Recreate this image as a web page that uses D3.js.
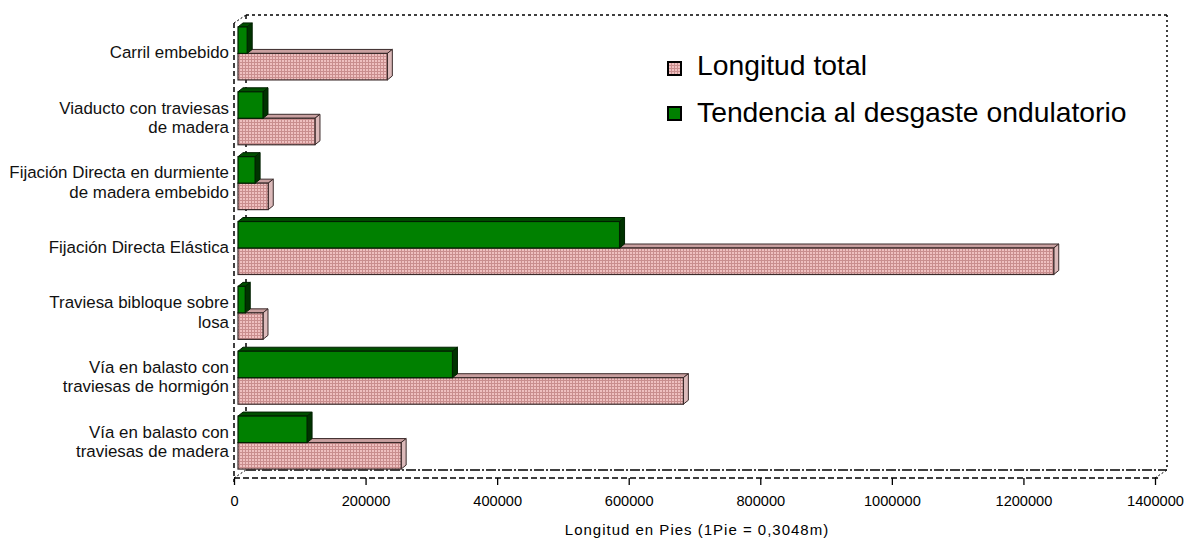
<!DOCTYPE html>
<html><head><meta charset="utf-8">
<script src="https://cdn.jsdelivr.net/npm/d3@7"></script>
<style>
html,body{margin:0;padding:0;background:#fff;}
svg{display:block;font-family:"Liberation Sans",Arial,sans-serif;}
</style></head><body>
<svg id="c" width="1192" height="542"></svg>
<script>
const categories = ["Carril embebido","Viaducto con traviesas de madera","Fijación Directa en durmiente de madera embebido","Fijación Directa Elástica","Traviesa bibloque sobre losa","Vía en balasto con traviesas de hormigón","Vía en balasto con traviesas de madera"];
const categoryLines = [["Carril embebido"],["Viaducto con traviesas","de madera"],["Fijación Directa en durmiente","de madera embebido"],["Fijación Directa Elástica"],["Traviesa bibloque sobre","losa"],["Vía en balasto con","traviesas de hormigón"],["Vía en balasto con","traviesas de madera"]];
const seriesNames = ["Tendencia al desgaste ondulatorio","Longitud total"];
const tendencia = [14000, 38000, 26000, 580000, 11000, 326000, 105000];
const longitudTotal = [227000, 117000, 46000, 1240000, 38000, 677000, 248000];
const xTicks = [0,200000,400000,600000,800000,1000000,1200000,1400000];
const axisTitle = "Longitud en Pies (1Pie = 0,3048m)";

const svg = d3.select("#c");
const defs = svg.append("defs");
const pat = defs.append("pattern").attr("id","pinkgrid").attr("patternUnits","userSpaceOnUse").attr("width",3).attr("height",3);
pat.append("rect").attr("width",3).attr("height",3).attr("fill","#efc0c0");
pat.append("rect").attr("x",2).attr("width",1).attr("height",3).attr("fill","#c98e8e");
pat.append("rect").attr("y",2).attr("width",3).attr("height",1).attr("fill","#c98e8e");

const x = d3.scaleLinear().domain([0,1400000]).range([234,1155]);
const y = d3.scaleBand().domain(categories).range([21,475]).paddingInner(0.183).paddingOuter(0.0915);
const ys = d3.scaleBand().domain(seriesNames).range([0,y.bandwidth()]);

const DX = 12, DY = -8; // frame depth
const front = {l:234, r:1155, t:23, b:478};

// back wall frame
const g = svg.append("g");
g.append("line").attr("x1",front.l+DX).attr("x2",front.l+DX).attr("y1",front.t+DY).attr("y2",front.b+DY)
 .attr("stroke","#000").attr("stroke-dasharray","4,4").attr("stroke-width",1.5);
g.append("line").attr("x1",front.l+DX).attr("x2",front.r+DX).attr("y1",front.t+DY).attr("y2",front.t+DY)
 .attr("stroke","#000").attr("stroke-dasharray","3,3").attr("stroke-width",1.5);
g.append("line").attr("x1",front.r+DX).attr("x2",front.r+DX).attr("y1",front.t+DY).attr("y2",front.b+DY)
 .attr("stroke","#000").attr("stroke-dasharray","2,3").attr("stroke-width",1.5);
g.append("line").attr("x1",front.l+DX).attr("x2",front.r+DX).attr("y1",front.b+DY).attr("y2",front.b+DY)
 .attr("stroke","#000").attr("stroke-dasharray","10,2,2,2").attr("stroke-width",1.3);
[[front.l,front.t],[front.l,front.b],[front.r,front.b]].forEach(p=>{
  g.append("line").attr("x1",p[0]).attr("y1",p[1]).attr("x2",p[0]+DX).attr("y2",p[1]+DY)
   .attr("stroke","#000").attr("stroke-dasharray","2,2").attr("stroke-width",1);
});

// bars
const BX = 4, BY = 0;
const d3x = 5, d3y = -4;
const series = [
  {name: seriesNames[0], values: tendencia, front:"#008000", top:"#004f00", side:"#003300", stroke:"#002000"},
  {name: seriesNames[1], values: longitudTotal, front:"url(#pinkgrid)", top:"#c9a0a0", side:"#dcbaba", stroke:"#3a2a2a"}
];
const barsG = svg.append("g");
categories.forEach((c,i)=>{
  [1,0].forEach(si=>{
    const s = series[si];
    const x0 = x(0)+BX, x1 = x(s.values[i])+BX;
    const y0 = y(c)+ys(s.name)+BY, y1 = y0+ys.bandwidth();
    const bg = barsG.append("g");
    bg.append("path").attr("d",`M${x0},${y0}L${x0+d3x},${y0+d3y}L${x1+d3x},${y0+d3y}L${x1},${y0}Z`)
      .attr("fill",s.top).attr("stroke",s.stroke).attr("stroke-width",1);
    bg.append("path").attr("d",`M${x1},${y0}L${x1+d3x},${y0+d3y}L${x1+d3x},${y1+d3y}L${x1},${y1}Z`)
      .attr("fill",s.side).attr("stroke",s.stroke).attr("stroke-width",1);
    bg.append("rect").attr("x",x0).attr("y",y0).attr("width",x1-x0).attr("height",y1-y0)
      .attr("fill",s.front).attr("stroke",s.stroke).attr("stroke-width",1.2);
  });
});

// front frame
svg.append("line").attr("x1",front.l).attr("x2",front.l).attr("y1",front.t).attr("y2",front.b+4)
 .attr("stroke","#000").attr("stroke-dasharray","5,3").attr("stroke-width",1.5);
svg.append("line").attr("x1",front.l).attr("x2",front.r+5).attr("y1",front.b).attr("y2",front.b)
 .attr("stroke","#000").attr("stroke-dasharray","6,3").attr("stroke-width",1.3);

// x axis
const xAxis = d3.axisBottom(x).tickValues(xTicks).tickFormat(d3.format("d")).tickSize(7).tickSizeOuter(0);
const ax = svg.append("g").attr("transform",`translate(0,${front.b})`).call(xAxis);
ax.select(".domain").remove();
ax.selectAll(".tick line").attr("stroke","#000").attr("stroke-width",1.3);
ax.selectAll(".tick text").attr("font-size","14.6px").attr("fill","#000").attr("dy","1.25em")
  .attr("font-family","'Liberation Sans',Arial,sans-serif");

svg.append("text").attr("x",697).attr("y",535).attr("text-anchor","middle")
  .attr("font-size","15px").attr("letter-spacing","1px").attr("fill","#000").text(axisTitle);

// category labels
categories.forEach((c,i)=>{
  const lines = categoryLines[i];
  const cy = y(c)+y.bandwidth()/2 - 1;
  const lh = 19.5;
  const t = svg.append("text").attr("text-anchor","end").attr("font-size","16.9px").attr("fill","#111");
  lines.forEach((ln,k)=>{
    t.append("tspan").attr("x",229).attr("y",cy + (k-(lines.length-1)/2)*lh + 6).text(ln);
  });
});

// legend
const legend = [
  {name: seriesNames[1], fill:"url(#pinkgrid)", y:62, ty:75},
  {name: seriesNames[0], fill:"#008000", y:107, ty:122}
];
legend.forEach(l=>{
  svg.append("rect").attr("x",668).attr("y",l.y).attr("width",13).attr("height",13)
    .attr("fill",l.fill).attr("stroke","#000").attr("stroke-width",2);
  svg.append("text").attr("x",697).attr("y",l.ty).attr("font-size","28.3px").attr("fill","#000").text(l.name);
});
</script>
</body></html>
